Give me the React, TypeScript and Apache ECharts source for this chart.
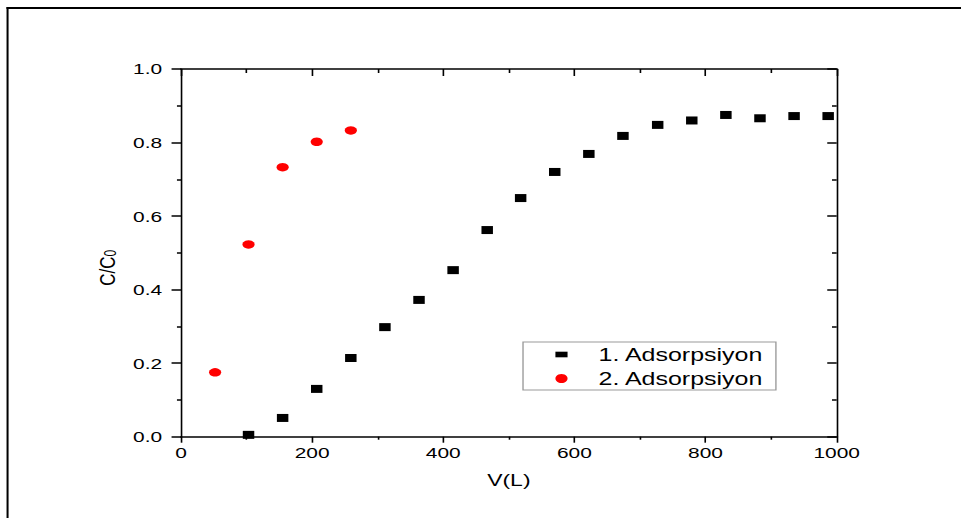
import React, { useEffect, useRef } from "react";
import * as echarts from "echarts";

// Data
const series1Name = "1. Adsorpsiyon";
const series2Name = "2. Adsorpsiyon";
const vol1 = [103, 155, 207, 259, 311, 363, 415, 467, 518, 570, 622, 674, 727, 779, 831, 883, 935, 987];
const ratio1 = [0.005, 0.051, 0.13, 0.214, 0.298, 0.372, 0.453, 0.562, 0.649, 0.72, 0.769, 0.818, 0.848, 0.86, 0.875, 0.866, 0.872, 0.872];
const vol2 = [52, 103, 155, 207, 259];
const ratio2 = [0.175, 0.523, 0.733, 0.802, 0.833];

const xTicks = { min: 0, max: 1000, interval: 200 };
const yTicks = { min: 0, max: 1, interval: 0.2 };

const PAGE_W = 961;
const INNER_W = 712;
const SCALE_X = PAGE_W / INNER_W;
const FONT = 'Arial, "Liberation Sans", sans-serif';

export default function App() {
  const ref = useRef<HTMLDivElement>(null);
  useEffect(() => {
    if (!ref.current) return;
    const chart = echarts.init(ref.current, undefined, { renderer: "svg" });
    const pts1 = vol1.map((v, i) => [v, ratio1[i]]);
    const pts2 = vol2.map((v, i) => [v, ratio2[i]]);
    const axisBase = {
      type: "value" as const,
      splitLine: { show: false },
    };
    chart.setOption({
      animation: false,
      backgroundColor: "#ffffff",
      grid: { left: 134.1, top: 69, width: 485.8, height: 367.7, containLabel: false },
      graphic: [
        { type: "line", shape: { x1: 4.8, y1: 8, x2: INNER_W, y2: 8 }, style: { stroke: "#000", lineWidth: 2 } },
        { type: "line", shape: { x1: 5.6, y1: 7, x2: 5.6, y2: 518 }, style: { stroke: "#000", lineWidth: 1.5 } },
      ],
      xAxis: [
        {
          ...axisBase,
          position: "bottom",
          min: xTicks.min,
          max: xTicks.max,
          interval: xTicks.interval,
          name: "V(L)",
          nameLocation: "middle",
          nameGap: 35,
          nameTextStyle: { fontFamily: FONT, fontSize: 17, color: "#000" },
          axisLine: { onZero: false, lineStyle: { color: "#000", width: 1.5 } },
          axisTick: { show: true, inside: false, length: 6, lineStyle: { color: "#000", width: 1.2 } },
          minorTick: { show: true, splitNumber: 2, length: 3, lineStyle: { color: "#000", width: 1.2 } },
          axisLabel: {
            fontFamily: FONT,
            fontSize: 15.5,
            color: "#000",
            margin: 8,
            formatter: (v: number) => String(v),
          },
        },
        {
          ...axisBase,
          position: "top",
          min: xTicks.min,
          max: xTicks.max,
          interval: xTicks.interval,
          axisLine: { onZero: false, lineStyle: { color: "#000", width: 1.5 } },
          axisTick: { show: true, inside: true, length: 7, lineStyle: { color: "#000", width: 1.2 } },
          minorTick: { show: true, splitNumber: 2, length: 4, lineStyle: { color: "#000", width: 1.2 } },
          axisLabel: { show: false },
        },
      ],
      yAxis: [
        {
          ...axisBase,
          position: "left",
          min: yTicks.min,
          max: yTicks.max,
          interval: yTicks.interval,
          name: "C/C{sub|0}",
          nameLocation: "middle",
          nameGap: 46,
          nameTextStyle: {
            fontFamily: FONT,
            fontSize: 17,
            color: "#000",
            padding: [0, 30, 0, 0],
            rich: { sub: { fontFamily: FONT, fontSize: 12, color: "#000", verticalAlign: "bottom" } },
          },
          axisLine: { onZero: false, lineStyle: { color: "#000", width: 1.2 } },
          axisTick: { show: true, inside: false, length: 7, lineStyle: { color: "#000", width: 1.5 } },
          minorTick: { show: true, splitNumber: 2, length: 3, lineStyle: { color: "#000", width: 1.5 } },
          axisLabel: {
            fontFamily: FONT,
            fontSize: 15.5,
            color: "#000",
            margin: 14,
            formatter: (v: number) => v.toFixed(1),
          },
        },
        {
          ...axisBase,
          position: "right",
          min: yTicks.min,
          max: yTicks.max,
          interval: yTicks.interval,
          axisLine: { onZero: false, lineStyle: { color: "#000", width: 1.2 } },
          axisTick: { show: true, inside: true, length: 7, lineStyle: { color: "#000", width: 1.5 } },
          minorTick: { show: true, splitNumber: 2, length: 3.5, lineStyle: { color: "#000", width: 1.5 } },
          axisLabel: { show: false },
        },
      ],
      legend: {
        orient: "vertical",
        left: 387.5,
        top: 342,
        padding: [3, 9, 2, 24],
        itemGap: 5,
        itemWidth: 9,
        itemHeight: 9,
        borderColor: "#999",
        borderWidth: 1,
        backgroundColor: "#fff",
        textStyle: { fontFamily: FONT, fontSize: 18.5, color: "#000", padding: [0, 0, 0, 18] },
        data: [
          { name: series1Name, icon: "path://M0,0h16v10h-16z", itemStyle: { color: "#000", opacity: 1 } },
          { name: series2Name, icon: "circle", itemStyle: { color: "#ff0000", opacity: 1 } },
        ],
      },
      series: [
        {
          name: series1Name,
          type: "scatter",
          xAxisIndex: 0,
          yAxisIndex: 0,
          symbol: "rect",
          symbolSize: [8.5, 8],
          itemStyle: { color: "#000", opacity: 1 },
          data: pts1,
          z: 3,
        },
        {
          name: series2Name,
          type: "scatter",
          xAxisIndex: 0,
          yAxisIndex: 0,
          symbol: "circle",
          symbolSize: [9, 8.5],
          itemStyle: { color: "#ff0000", opacity: 1 },
          data: pts2,
          z: 3,
        },
      ],
    });
    return () => chart.dispose();
  }, []);
  return (
    <div
      ref={ref}
      style={{
        position: "absolute",
        left: 0,
        top: 0,
        width: INNER_W,
        height: 518,
        transform: `scaleX(${SCALE_X})`,
        transformOrigin: "0 0",
        background: "#fff",
      }}
    />
  );
}
